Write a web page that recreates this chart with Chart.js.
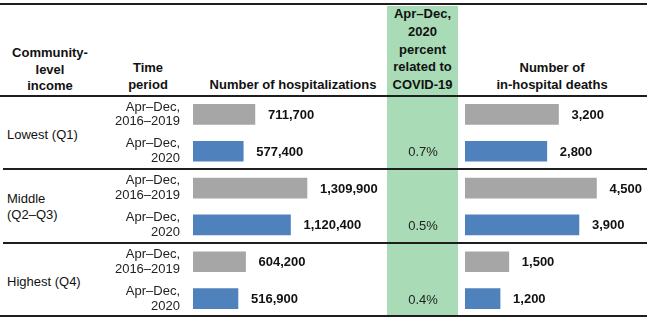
<!DOCTYPE html>
<html lang="en">
<head>
    <meta charset="UTF-8">
    <title>Hospitalizations by community-level income</title>
    <script src="https://cdn.jsdelivr.net/npm/chart.js"></script>
    <style>
        body {
            margin: 0;
            background: #fff;
            font-family: "Liberation Sans", Arial, sans-serif;
            color: #111;
        }
        #page {
            position: relative;
            width: 651px;
            height: 321px;
            overflow: hidden;
        }
        .band {
            position: absolute;
            left: 387px;
            top: 6px;
            width: 71px;
            height: 310px;
            background: #a9dcb6;
        }
        .rule {
            position: absolute;
            left: 0;
            width: 647px;
            height: 2px;
            background: #1e1e1e;
        }
        .head {
            position: absolute;
            font-weight: bold;
            font-size: 13px;
            text-align: center;
            white-space: nowrap;
        }
        .row {
            position: absolute;
            left: 7px;
            font-size: 13px;
            line-height: 16px;
            white-space: nowrap;
        }
        .wrap {
            position: absolute;
            top: 96px;
            height: 221px;
        }
    </style>
</head>
<body>
<div id="page">
    <div class="band"></div>

    <div class="rule" style="top:3px"></div>
    <div class="rule" style="top:95px"></div>
    <div class="rule" style="top:168px; left:3px; width:644px"></div>
    <div class="rule" style="top:242px; left:3px; width:644px"></div>
    <div class="rule" style="top:315px"></div>

    <div class="head" style="left:0; width:100px; top:45px; line-height:16.5px">Community-<br>level<br>income</div>
    <div class="head" style="left:110px; width:76px; top:60px; line-height:16.5px">Time<br>period</div>
    <div class="head" style="left:193px; width:200px; top:77px; line-height:16.5px">Number of hospitalizations</div>
    <div class="head" style="left:387px; width:71px; top:5px; line-height:17.8px">Apr&ndash;Dec,<br>2020<br>percent<br>related to<br>COVID-19</div>
    <div class="head" style="left:470px; width:164px; top:60px; line-height:16.5px">Number of<br>in-hospital deaths</div>

    <div class="row" style="top:127px">Lowest (Q1)</div>
    <div class="row" style="top:191px">Middle<br>(Q2&ndash;Q3)</div>
    <div class="row" style="top:274px">Highest (Q4)</div>

    <div class="wrap" style="left:0; width:465px"><canvas id="hospChart"></canvas></div>
    <div class="wrap" style="left:465px; width:182px"><canvas id="deathChart"></canvas></div>
</div>

<script>
    const incomeGroups = ['Lowest (Q1)', 'Middle (Q2–Q3)', 'Highest (Q4)'];
    const periods = [['Apr–Dec,', '2016–2019'], ['Apr–Dec,', '2020']];
    const hospBaseline = [711700, 1309900, 604200];
    const hosp2020 = [577400, 1120400, 516900];
    const deathsBaseline = [3200, 4500, 1500];
    const deaths2020 = [2800, 3900, 1200];
    const covidPercent = ['0.7%', '0.5%', '0.4%'];

    const grayBar = '#a6a6a6';
    const blueBar = '#4f81bd';

    // one row per (income group, period)
    const rowLabels = [];
    const hospRows = [];
    const deathRows = [];
    const barColors = [];
    incomeGroups.forEach((g, i) => {
        rowLabels.push(periods[0], periods[1]);
        hospRows.push(hospBaseline[i], hosp2020[i]);
        deathRows.push(deathsBaseline[i], deaths2020[i]);
        barColors.push(grayBar, blueBar);
    });

    const valueLabels = {
        id: 'valueLabels',
        afterDatasetsDraw(chart) {
            const ctx = chart.ctx;
            const meta = chart.getDatasetMeta(0);
            ctx.save();
            ctx.font = 'bold 13px "Liberation Sans", Arial, sans-serif';
            ctx.fillStyle = '#111';
            ctx.textBaseline = 'middle';
            ctx.textAlign = 'left';
            meta.data.forEach((bar, i) => {
                ctx.fillText(chart.data.datasets[0].data[i].toLocaleString('en-US'), bar.x + 13, bar.y + 1);
            });
            ctx.restore();
        }
    };

    // percent column sits on the 2020 row of each group
    const percentLabels = {
        id: 'percentLabels',
        afterDatasetsDraw(chart) {
            const ctx = chart.ctx;
            const meta = chart.getDatasetMeta(0);
            ctx.save();
            ctx.font = '13px "Liberation Sans", Arial, sans-serif';
            ctx.fillStyle = '#222';
            ctx.textBaseline = 'middle';
            ctx.textAlign = 'center';
            covidPercent.forEach((p, i) => {
                ctx.fillText(p, 423, meta.data[i * 2 + 1].y + 1.5);
            });
            ctx.restore();
        }
    };

    function barOptions(max, showAxis, padRight) {
        return {
            indexAxis: 'y',
            responsive: true,
            maintainAspectRatio: false,
            animation: false,
            layout: { padding: { left: 0, top: 0, bottom: 0, right: padRight } },
            plugins: { legend: { display: false }, tooltip: { enabled: false } },
            scales: {
                x: { display: false, min: 0, max: max },
                y: {
                    display: showAxis,
                    grid: { display: false, drawTicks: false },
                    border: { display: false },
                    ticks: {
                        padding: 13,
                        color: '#222',
                        font: { family: '"Liberation Sans", Arial, sans-serif', size: 13, lineHeight: 1.15 }
                    },
                    afterFit(scale) {
                        if (!showAxis) return;
                        scale.width = 193;
                        scale.paddingTop = 0;
                        scale.paddingBottom = 0;
                    }
                }
            }
        };
    }

    new Chart(document.getElementById('hospChart'), {
        type: 'bar',
        data: {
            labels: rowLabels,
            datasets: [{ data: hospRows, backgroundColor: barColors, barThickness: 20 }]
        },
        options: barOptions(2230000, true, 78),
        plugins: [valueLabels, percentLabels]
    });

    new Chart(document.getElementById('deathChart'), {
        type: 'bar',
        data: {
            labels: rowLabels,
            datasets: [{ data: deathRows, backgroundColor: barColors, barThickness: 20 }]
        },
        options: barOptions(6230, false, 0),
        plugins: [valueLabels]
    });
</script>
</body>
</html>
